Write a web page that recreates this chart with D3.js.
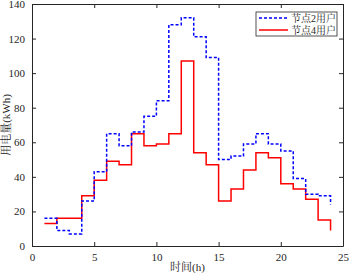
<!DOCTYPE html>
<html>
<head>
<meta charset="utf-8">
<script src="https://cdn.jsdelivr.net/npm/d3@7"></script>
<style>
  body { margin: 0; background: #fff; }
</style>
</head>
<body>
<div id="chart-area"></div>
<script>
// hours 1..24
const hours = d3.range(1, 25);
// node 2 users (blue dashed)
const node2 = [16, 9, 7, 26, 43, 65, 58, 66, 75, 84, 128, 132, 121, 109, 50, 52, 59, 65, 59, 55, 39, 30, 29, 24];
// node 4 users (red solid)
const node4 = [13, 16, 16, 29, 38, 49, 47, 65, 58, 59, 65, 107, 54, 47, 26, 33, 44, 54, 51, 36, 33, 27, 15, 9];
const xTicks = [0, 5, 10, 15, 20, 25];
const yTicks = [0, 20, 40, 60, 80, 100, 120, 140];
const seriesNames = ['节点2用户', '节点4用户'];

const W = 349, H = 274;
const margin = { left: 32, top: 4, right: 6, bottom: 28 };
const width = W - margin.left - margin.right;
const height = H - margin.top - margin.bottom;
const serif = "'Liberation Serif', 'Times New Roman', 'Noto Serif CJK SC', 'Noto Sans CJK SC', serif";

const svg = d3.select('#chart-area').append('svg')
    .attr('width', W)
    .attr('height', H);

const g = svg.append('g')
    .attr('transform', `translate(${margin.left}, ${margin.top})`);

const x = d3.scaleLinear().domain([0, 25]).range([0, width]);
const y = d3.scaleLinear().domain([0, 140]).range([height, 0]);

const axisColor = '#262626';

// axes, ticks pointing inward like matlab
const styleAxis = sel => {
    sel.attr('font-family', null);
    sel.select('.domain').attr('stroke', axisColor);
    sel.selectAll('.tick line').attr('stroke', axisColor);
    sel.selectAll('.tick text')
        .attr('fill', axisColor)
        .style('font-size', '11px')
        .style('font-family', serif);
};

g.append('g')
    .attr('transform', `translate(0, ${height})`)
    .call(d3.axisBottom(x).tickValues(xTicks).tickSizeInner(-4).tickSizeOuter(0).tickPadding(7))
    .call(styleAxis);
g.append('g')
    .call(d3.axisTop(x).tickValues(xTicks).tickSizeInner(-4).tickSizeOuter(0).tickFormat(''))
    .call(styleAxis);
g.append('g')
    .call(d3.axisLeft(y).tickValues(yTicks).tickSizeInner(-4).tickSizeOuter(0).tickPadding(7))
    .call(styleAxis);
g.append('g')
    .attr('transform', `translate(${width}, 0)`)
    .call(d3.axisRight(y).tickValues(yTicks).tickSizeInner(-4).tickSizeOuter(0).tickFormat(''))
    .call(styleAxis);

// stairs lines (matlab stairs)
const stairs = d3.line()
    .x((d, i) => x(hours[i]))
    .y(d => y(d))
    .curve(d3.curveStepAfter);

g.append('path')
    .datum(node4)
    .attr('fill', 'none')
    .attr('stroke', '#ff0000')
    .attr('stroke-width', 1.5)
    .attr('d', stairs);

g.append('path')
    .datum(node2)
    .attr('fill', 'none')
    .attr('stroke', '#0000ff')
    .attr('stroke-width', 1.5)
    .attr('stroke-dasharray', '3,2')
    .attr('d', stairs);

// axis labels
g.append('text')
    .attr('x', width / 2)
    .attr('y', height + 25)
    .attr('text-anchor', 'middle')
    .style('font-size', '11px')
    .style('font-family', serif)
    .attr('fill', axisColor)
    .text('时间(h)');

g.append('text')
    .attr('transform', `translate(${-22}, ${height / 2}) rotate(-90)`)
    .attr('text-anchor', 'middle')
    .style('font-size', '11px')
    .style('font-family', serif)
    .attr('fill', axisColor)
    .text('用电量(kWh)');

// legend
const legend = g.append('g')
    .attr('transform', `translate(${width - 87}, 8)`);
legend.append('rect')
    .attr('width', 81)
    .attr('height', 24)
    .attr('fill', '#fff')
    .attr('stroke', axisColor)
    .attr('stroke-width', 0.8);
const colors = ['#0000ff', '#ff0000'];
const dashes = ['3,2', null];
seriesNames.forEach((name, i) => {
    const row = legend.append('g').attr('transform', `translate(0, ${6 + i * 12})`);
    row.append('line')
        .attr('x1', 3).attr('x2', 32)
        .attr('stroke', colors[i])
        .attr('stroke-width', 1.5)
        .attr('stroke-dasharray', dashes[i]);
    row.append('text')
        .attr('x', 35)
        .attr('y', 4)
        .style('font-size', '10px')
        .style('font-family', serif)
        .attr('fill', axisColor)
        .text(name);
});
</script>
</body>
</html>
